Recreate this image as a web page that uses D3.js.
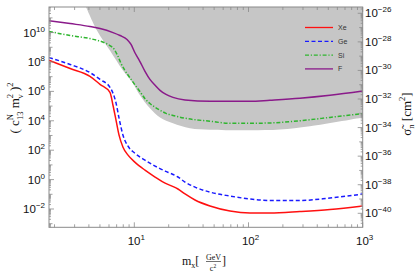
<!DOCTYPE html>
<html><head><meta charset="utf-8">
<script src="https://cdn.jsdelivr.net/npm/d3@7"></script>
<style>body{margin:0;background:#fff}svg{display:block}</style>
</head><body>
<svg id="c" width="417" height="273"></svg>
<script>
// ---- data ----
const xeMass = [1.79,2.74,4.09,5.01,6.12,6.51,6.92,7.35,7.96,8.81,10.1,12.4,15.2,18.6,21.4,24.1,27.8,34.0,46.0,68.9,103,154,282,517,1000];
const xeVal  = [1.3e8,3.6e7,1.05e7,3.0e6,8.5e5,1.1e5,1.07e4,1.05e3,160,46,15.5,4.4,1.5,0.57,0.36,0.23,0.105,0.041,0.016,0.0073,0.0054,0.0054,0.0068,0.0093,0.016];
const geMass = [1.79,2.74,4.09,5.01,6.12,6.51,6.92,7.35,7.96,8.81,10.1,12.4,15.2,18.6,21.4,24.1,27.8,34.0,46.0,68.9,103,154,282,517,1000];
const geVal  = [2.0e8,6.8e7,1.9e7,6.5e6,1.9e6,7.3e5,1.6e5,1.5e4,1.05e3,186,63,21,8.3,3.8,2.4,1.5,0.68,0.31,0.14,0.076,0.048,0.038,0.038,0.056,0.104];
const siMass = [1.79,2.74,4.09,5.54,6.12,6.64,7.20,7.65,8.29,9.17,10.1,11.2,12.4,13.7,15.2,16.8,18.95,21.8,27.8,46.0,68.9,103,154,282,517,1000];
const siVal  = [1.2e10,6.3e9,3.9e9,1.95e9,1.3e9,7.6e8,2.4e8,7.9e7,2.6e7,8.3e6,2.9e6,9.8e5,3.2e5,1.5e5,8.3e4,5.2e4,3.2e4,2.3e4,1.5e4,9.3e3,6.8e3,6.8e3,7.1e3,1.0e4,1.7e4,3.1e4];
const fMass  = [1.79,2.74,4.09,5.01,6.51,7.50,8.63,9.36,10.1,11.2,12.4,13.7,15.2,16.8,18.95,21.8,27.8,46.0,103,154,282,517,1000];
const fVal   = [6.5e10,4.1e10,2.6e10,1.9e10,1.0e10,6.3e9,3.4e9,1.55e9,4.4e8,1.07e8,2.3e7,6.5e6,2.6e6,1.18e6,6.3e5,3.9e5,2.6e5,2.1e5,2.1e5,2.5e5,3.4e5,5.4e5,1.05e6];
const excMass = [3.78,4.71,6.12,7.96,9.74,11.2,13.7,16.8,21.8,30.7,46.0,103,189,345,1000];
const excVal  = [5.5e11,1.4e10,6e8,2.6e7,3.5e6,5.4e5,7.1e4,1.7e4,6.8e3,3.1e3,2.5e3,2.3e3,2.6e3,4.3e3,1.7e4];
const seriesNames = ["Xe","Ge","Si","F"];
const xTickExp = [1,2,3];
const leftTickExp = [-2,0,2,4,6,8,10];
const rightTickExp = [-40,-38,-36,-34,-32,-30,-28,-26];

// ---- layout ----
const svg = d3.select("#c");
const L = 49, R = 362.7, T = 7, B = 227.3;
const x = d3.scaleLog().domain([1.79, 1000]).range([L, R]);
const y = d3.scaleLog().domain([Math.pow(10,-3.245), Math.pow(10,11.74)]).range([B, T]);
const y2 = d3.scaleLog().domain([Math.pow(10,-40.98), Math.pow(10,-25.56)]).range([B, T]);

svg.append("clipPath").attr("id","clip").append("rect").attr("x",L).attr("y",T).attr("width",R-L).attr("height",B-T);
const plot = svg.append("g").attr("clip-path","url(#clip)");

// excluded region
const excPts = excMass.map((m,i)=>[x(m), y(excVal[i])]);
const area = d3.line().x(d=>d[0]).y(d=>d[1]).curve(d3.curveCatmullRom);
plot.append("path")
  .attr("d", "M" + (excPts[0][0]) + "," + (T-5) + area(excPts).replace(/^M/,"L") + "L" + (R+5) + "," + (T-5) + "Z")
  .attr("fill", "#c6c6c6").attr("stroke","none");

const line = d3.line().x(d=>x(d[0])).y(d=>y(d[1])).curve(d3.curveMonotoneX);
const styles = [
  {m:xeMass, v:xeVal, color:"#ff1010", dash:null},
  {m:geMass, v:geVal, color:"#1a1aff", dash:"4,2.5"},
  {m:siMass, v:siVal, color:"#2fb52f", dash:"4,1.8,1.2,1.8"},
  {m:fMass,  v:fVal,  color:"#8a1a8a", dash:null}
];
styles.forEach(s=>{
  plot.append("path").datum(s.m.map((m,i)=>[m,s.v[i]]))
    .attr("d", line).attr("fill","none").attr("stroke", s.color)
    .attr("stroke-width",1.5).attr("stroke-dasharray", s.dash);
});

// frame
const frameCol = "#8a8a8a";
svg.append("rect").attr("x",L).attr("y",T).attr("width",R-L).attr("height",B-T)
  .attr("fill","none").attr("stroke",frameCol).attr("stroke-width",1);

// ticks
const tg = svg.append("g").attr("stroke",frameCol).attr("stroke-width",0.8);
function minorList(e0,e1){const a=[];for(let e=e0;e<=e1;e++){for(let k=1;k<10;k++){a.push({v:k*Math.pow(10,e),major:k===1});}}return a;}
minorList(0,3).forEach(t=>{
  if (t.v < 1.79 || t.v > 1000.01) return;
  const px = x(t.v), len = t.major?5:3;
  tg.append("line").attr("x1",px).attr("x2",px).attr("y1",B).attr("y2",B-len);
  tg.append("line").attr("x1",px).attr("x2",px).attr("y1",T).attr("y2",T+len);
});
minorList(-4,11).forEach(t=>{
  const py = y(t.v); if (py < T || py > B) return;
  const e = Math.round(Math.log10(t.v));
  const len = t.major ? (e%2===0?5:3.5) : 2;
  tg.append("line").attr("x1",L).attr("x2",L+len).attr("y1",py).attr("y2",py);
});
minorList(-42,-25).forEach(t=>{
  const py = y2(t.v); if (py < T || py > B) return;
  const e = Math.round(Math.log10(t.v));
  const len = t.major ? (e%2===0?5:3.5) : 2;
  tg.append("line").attr("x1",R).attr("x2",R-len).attr("y1",py).attr("y2",py);
});

// tick labels
const tickFont = "Liberation Sans, Arial, sans-serif";
function powLabel(g, px, py, exp, anchor){
  const t = g.append("text").attr("x",px).attr("y",py).attr("text-anchor",anchor)
    .attr("font-family",tickFont).attr("font-size",11.5).attr("fill","#111");
  t.append("tspan").text("10");
  t.append("tspan").attr("dy",-5).attr("font-size",8).text(String(exp).replace("-","\u2212"));
}
const lab = svg.append("g");
xTickExp.forEach(e=>powLabel(lab, x(Math.pow(10,e))+2, 244.5, e, "middle"));
leftTickExp.forEach(e=>powLabel(lab, 45, y(Math.pow(10,e))+4, e, "end"));
rightTickExp.forEach(e=>powLabel(lab, 365, y2(Math.pow(10,e))+4, e, "start"));

// legend
const lg = svg.append("g");
styles.forEach((s,i)=>{
  const ly = 27.5 + i*13.8;
  lg.append("line").attr("x1",305).attr("x2",333).attr("y1",ly).attr("y2",ly)
    .attr("stroke",s.color).attr("stroke-width",1.3).attr("stroke-dasharray",s.dash);
  lg.append("text").attr("x",338).attr("y",ly+2.5).attr("font-family",tickFont)
    .attr("font-size",7).attr("fill","#333").text(seriesNames[i]);
});

// axis titles
const serif = "Liberation Serif, Times New Roman, serif";
const yt = svg.append("text").attr("transform","translate(19,108) rotate(-90)")
  .attr("text-anchor","middle").attr("font-family",serif).attr("font-size",13).attr("fill","#111");
yt.append("tspan").text("( c");
yt.append("tspan").attr("font-size",8.5).attr("dy",-6).text("N");
yt.append("tspan").attr("font-size",8.5).attr("dx",-6).attr("dy",9.5).text("13");
yt.append("tspan").attr("dy",-3.5).text(" m");
yt.append("tspan").attr("font-size",8.5).attr("dy",-6).text("2");
yt.append("tspan").attr("font-size",8.5).attr("dx",-4.5).attr("dy",9.5).text("v");
yt.append("tspan").attr("dy",-3.5).text(" )");
yt.append("tspan").attr("font-size",8.5).attr("dy",-6).text("2");

const rt = svg.append("text").attr("transform","translate(411,114) rotate(-90)")
  .attr("text-anchor","middle").attr("font-family",serif).attr("font-size",13).attr("fill","#111");
rt.append("tspan").text("\u03C3\u0303");
rt.append("tspan").attr("font-size",8.5).attr("dy",3).text("n");
rt.append("tspan").attr("dy",-3).text(" [cm");
rt.append("tspan").attr("font-size",8.5).attr("dy",-6).text("2");
rt.append("tspan").attr("dy",6).text("]");

const bt = svg.append("g").attr("font-family",serif).attr("fill","#111");
const bm = bt.append("text").attr("x",182).attr("y",265).attr("font-size",12);
bm.append("tspan").text("m");
bm.append("tspan").attr("font-size",8).attr("dy",2.5).text("x");
bm.append("tspan").attr("dy",-2.5).text("[");
bt.append("text").attr("x",213.5).attr("y",259.5).attr("text-anchor","middle").attr("font-size",8).text("GeV");
bt.append("line").attr("x1",206).attr("x2",221).attr("y1",261.5).attr("y2",261.5).attr("stroke","#111").attr("stroke-width",0.6);
const bc = bt.append("text").attr("x",213).attr("y",270.5).attr("text-anchor","middle").attr("font-size",8);
bc.append("tspan").text("c");
bc.append("tspan").attr("font-size",5.5).attr("dy",-3).text("2");
bt.append("text").attr("x",222).attr("y",265).attr("font-size",12).text("]");
</script>
</body></html>
